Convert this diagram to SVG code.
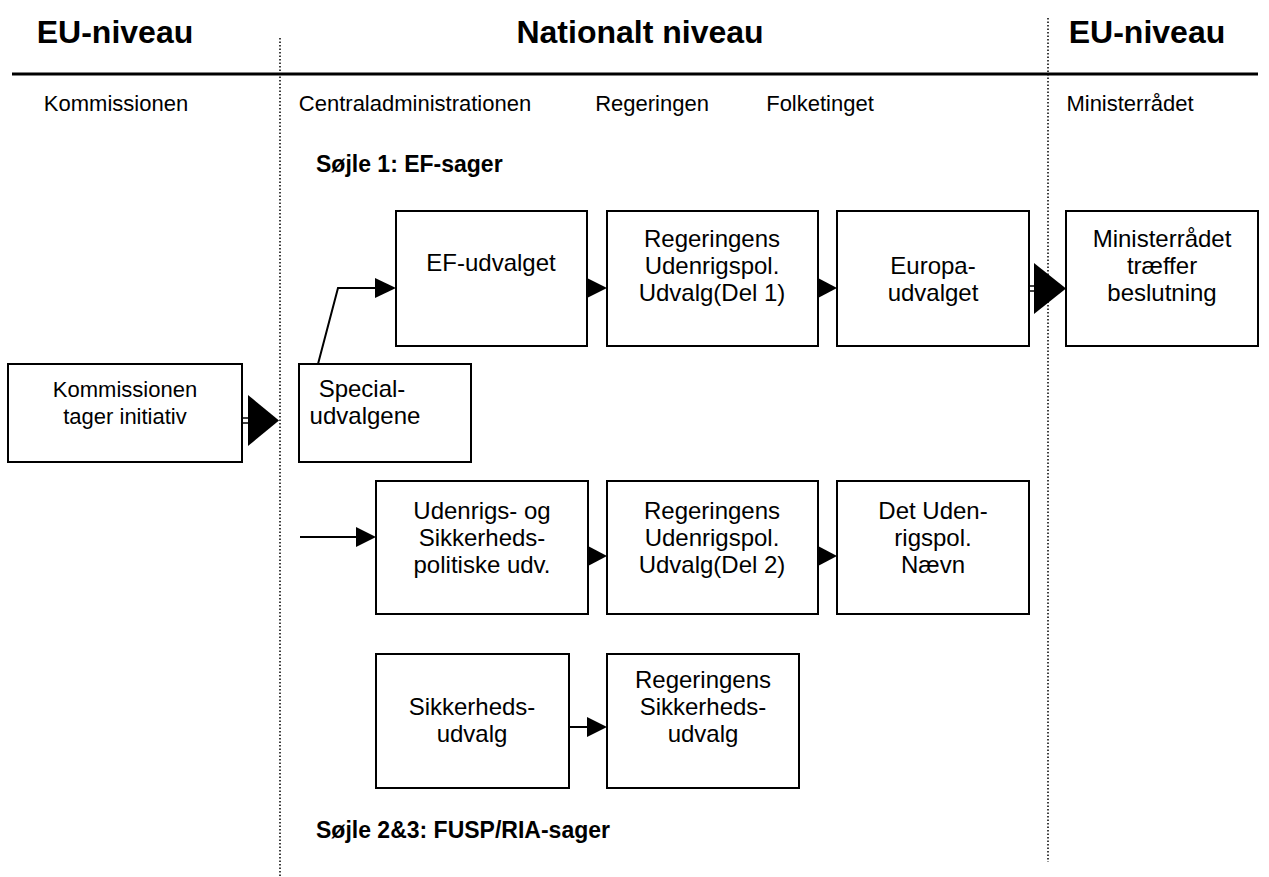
<svg xmlns="http://www.w3.org/2000/svg" width="1269" height="877" viewBox="0 0 1269 877">
<style>
text{font-family:"Liberation Sans",Arial,sans-serif;fill:#000}
.h{font-size:32px;font-weight:bold;text-anchor:middle}
.l{font-size:22px;text-anchor:middle}
.s{font-size:23px;font-weight:bold}
.b rect{fill:#fff;stroke:#000;stroke-width:2}
.b text{font-size:24px;text-anchor:middle}
.b text.k{font-size:22px}
.c{stroke:#000;stroke-width:2;fill:none}
.t{stroke:#000;stroke-width:1.5}
.d{stroke:#000;stroke-width:1.5;stroke-dasharray:1.5 2}
</style>
<rect width="1269" height="877" fill="#fff"/>
<g id="headers">
<text class="h" x="115" y="43">EU-niveau</text>
<text class="h" x="640" y="43">Nationalt niveau</text>
<text class="h" x="1147" y="43">EU-niveau</text>
<line x1="12" y1="74" x2="1258" y2="74" stroke="#000" stroke-width="3"/>
<line class="d" x1="280" y1="38" x2="280" y2="877"/>
<line class="d" x1="1048" y1="18" x2="1048" y2="862"/>
<text class="l" x="116" y="111">Kommissionen</text>
<text class="l" x="415" y="111">Centraladministrationen</text>
<text class="l" x="652" y="111">Regeringen</text>
<text class="l" x="820" y="111">Folketinget</text>
<text class="l" x="1130" y="111">Ministerrådet</text>
<text class="s" x="316" y="172">Søjle 1: EF-sager</text>
<text class="s" x="316" y="838">Søjle 2&amp;3: FUSP/RIA-sager</text>
</g>
<g class="b" id="ef-udvalget"><rect x="396" y="211" width="191" height="135"/><text x="491" y="271">EF-udvalget</text></g>
<g class="b" id="reg-del1"><rect x="607" y="211" width="211" height="135"/><text x="712" y="247">Regeringens</text><text x="712" y="274">Udenrigspol.</text><text x="712" y="301">Udvalg(Del 1)</text></g>
<g class="b" id="europaudvalget"><rect x="837" y="211" width="192" height="135"/><text x="933" y="274">Europa-</text><text x="933" y="301">udvalget</text></g>
<g class="b" id="ministerraadet"><rect x="1066" y="211" width="192" height="135"/><text x="1162" y="247">Ministerrådet</text><text x="1162" y="274">træffer</text><text x="1162" y="301">beslutning</text></g>
<g class="b" id="kommissionen"><rect x="8" y="364" width="234" height="98"/><text class="k" x="125" y="397">Kommissionen</text><text class="k" x="125" y="424">tager initiativ</text></g>
<g class="b" id="special"><rect x="299" y="364" width="172" height="98"/><text x="362" y="397">Special-</text><text x="365" y="424">udvalgene</text></g>
<g class="b" id="udenrigs-udv"><rect x="376" y="481" width="212" height="133"/><text x="482" y="519">Udenrigs- og</text><text x="482" y="546">Sikkerheds-</text><text x="482" y="573">politiske udv.</text></g>
<g class="b" id="reg-del2"><rect x="607" y="481" width="211" height="133"/><text x="712" y="519">Regeringens</text><text x="712" y="546">Udenrigspol.</text><text x="712" y="573">Udvalg(Del 2)</text></g>
<g class="b" id="naevn"><rect x="837" y="481" width="192" height="133"/><text x="933" y="519">Det Uden-</text><text x="933" y="546">rigspol.</text><text x="933" y="573">Nævn</text></g>
<g class="b" id="sikk-udvalg"><rect x="376" y="654" width="193" height="134"/><text x="472" y="715">Sikkerheds-</text><text x="472" y="742">udvalg</text></g>
<g class="b" id="reg-sikk"><rect x="607" y="654" width="192" height="134"/><text x="703" y="688">Regeringens</text><text x="703" y="715">Sikkerheds-</text><text x="703" y="742">udvalg</text></g>
<g id="connectors">
<line class="t" x1="242" y1="418" x2="250" y2="418"/>
<line class="t" x1="242" y1="423" x2="250" y2="423"/>
<path d="M248,395L279,420.5L248,446Z"/>
<polyline class="c" points="318,364 338,288 376,288"/>
<path d="M375,278L396,288L375,298Z"/>
<path d="M587,278L607,288L587,298Z"/>
<path d="M818,278L837,288L818,298Z"/>
<line class="t" x1="1029" y1="286" x2="1036" y2="286"/>
<line class="t" x1="1029" y1="291" x2="1036" y2="291"/>
<path d="M1034,263L1066,288.5L1034,314Z"/>
<line class="c" x1="300" y1="537" x2="358" y2="537"/>
<path d="M356,527L376,537L356,547Z"/>
<path d="M588,546L607,556L588,566Z"/>
<path d="M818,546L837,556L818,566Z"/>
<line class="c" x1="569" y1="727" x2="589" y2="727"/>
<path d="M587,717L607,727L587,737Z"/>
</g>
</svg>
